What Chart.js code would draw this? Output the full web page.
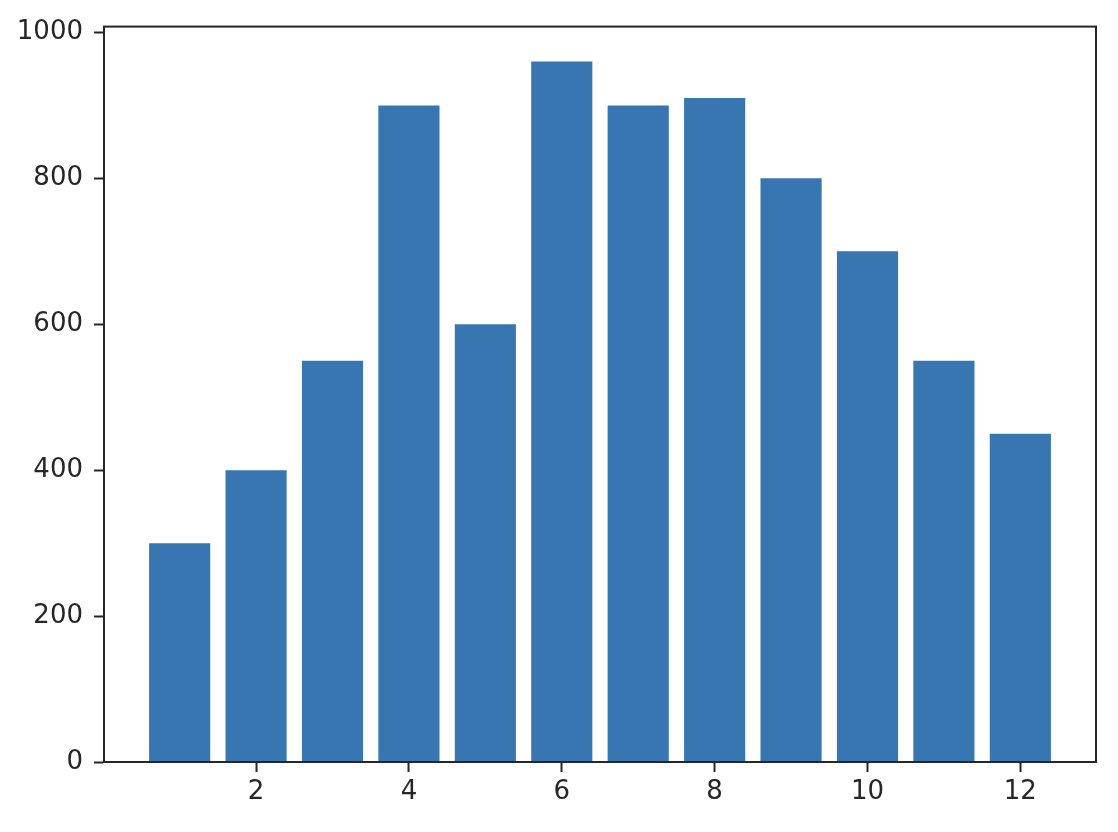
<!DOCTYPE html>
<html>
<head>
<meta charset="utf-8">
<script src="https://cdn.jsdelivr.net/npm/chart.js@4"></script>
<style>
html,body{margin:0;padding:0;background:#fff;}
#wrap{width:1118px;height:832px;}
</style>
</head>
<body>
<div id="wrap"><canvas id="c" width="1118" height="832"></canvas></div>
<script>
const categories = [1, 2, 3, 4, 5, 6, 7, 8, 9, 10, 11, 12];
const values = [300, 400, 550, 900, 600, 960, 900, 910, 800, 700, 550, 450];
const xTicks = [2, 4, 6, 8, 10, 12];
const yTicks = [0, 200, 400, 600, 800, 1000];

const INK = '#262626';
const frame = {
  id: 'frame',
  afterDraw(chart) {
    const a = chart.chartArea, ctx = chart.ctx;
    ctx.save();
    ctx.strokeStyle = INK;
    ctx.lineWidth = 2;
    ctx.strokeRect(a.left, a.top, a.right - a.left, a.bottom - a.top);
    ctx.restore();
  }
};

new Chart(document.getElementById('c'), {
  type: 'bar',
  data: {
    datasets: [{
      data: categories.map((c, i) => ({x: c, y: values[i]})),
      backgroundColor: '#3776b0',
      borderWidth: 0,
      categoryPercentage: 1.0,
      barPercentage: 0.8
    }]
  },
  plugins: [frame],
  options: {
    responsive: false,
    animation: false,
    devicePixelRatio: 1,
    layout: {padding: {top: 24, right: 22, left: 0, bottom: 0}},
    plugins: {legend: {display: false}, tooltip: {enabled: false}},
    scales: {
      x: {
        type: 'linear',
        min: 0.01,
        max: 12.99,
        offset: false,
        afterBuildTicks(s) { s.ticks = xTicks.map(v => ({value: v})); },
        afterFit(s) { s.height = 70; },
        grid: {display: true, offset: false, drawOnChartArea: false, drawTicks: true, tickLength: 10, tickWidth: 2, tickColor: INK},
        border: {display: true, color: INK, width: 2},
        ticks: {color: INK, padding: 5, font: {family: 'DejaVu Sans', size: 26}, maxRotation: 0, callback: v => String(v)}
      },
      y: {
        type: 'linear',
        min: 0,
        max: 1008,
        afterBuildTicks(s) { s.ticks = yTicks.map(v => ({value: v})); },
        afterFit(s) { s.width = 104; },
        grid: {display: true, offset: false, drawOnChartArea: false, drawTicks: true, tickLength: 10, tickWidth: 2, tickColor: INK},
        border: {display: true, color: INK, width: 2},
        ticks: {color: INK, padding: 11, font: {family: 'DejaVu Sans', size: 26}, callback: v => String(v)}
      }
    }
  }
});
</script>
</body>
</html>
